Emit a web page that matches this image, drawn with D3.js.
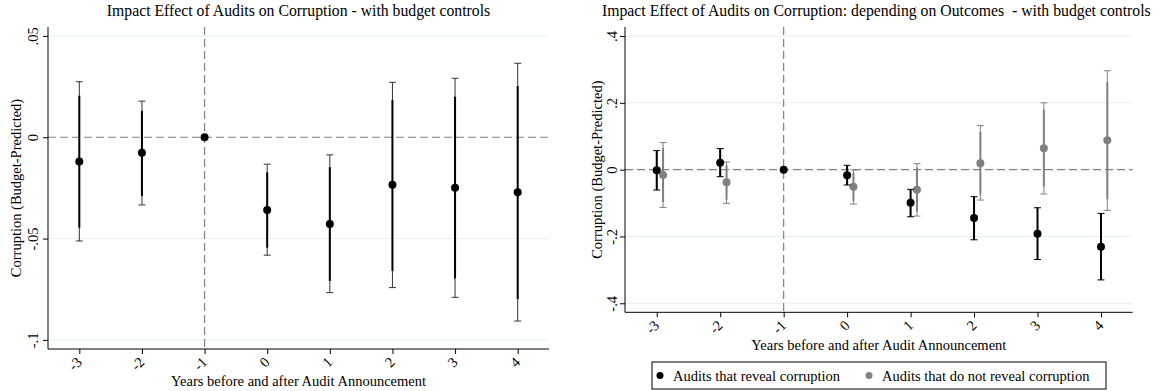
<!DOCTYPE html>
<html>
<head>
<meta charset="utf-8">
<script src="https://cdn.jsdelivr.net/npm/d3@7"></script>
<style>
  body { margin: 0; background: #fff; }
  text { font-family: "Liberation Serif", "Times New Roman", serif; fill: #000; }
</style>
</head>
<body>
<div id="chart"></div>
<script>
"use strict"

const WIDTH = 1154;
const HEIGHT = 391;
const FONT = 14.5;
const TITLE_FONT = 15.75;

// x categories (years relative to audit), -1 is the reference year
const years = [-3, -2, -1, 0, 1, 2, 3, 4];
const xTickLabels = ["-3", "-2", "-1", "0", "1", "2", "3", "4"];

// left panel: all audits
const allEst  = [-0.012, -0.0077, 0, -0.0359, -0.0428, -0.0235, -0.0249, -0.0271];
const allHi95 = [0.0274, 0.0178, null, -0.0133, -0.0087, 0.0271, 0.0291, 0.0365];
const allLo95 = [-0.0512, -0.0334, null, -0.0582, -0.0767, -0.0742, -0.079, -0.0907];
const allHi90 = [0.0205, 0.013, null, -0.0173, -0.0148, 0.0184, 0.020, 0.0253];
const allLo90 = [-0.0446, -0.0290, null, -0.0545, -0.0709, -0.066, -0.0696, -0.0798];
const leftYTicks = [0.05, 0, -0.05, -0.1];
const leftYTickLabels = [".05", "0", "-.05", "-.1"];

// right panel: audits that reveal corruption (black)
const revEst = [-0.002, 0.021, 0, -0.017, -0.099, -0.145, -0.192, -0.231];
const revHi  = [0.057, 0.063, null, 0.013, -0.059, -0.081, -0.114, -0.131];
const revLo  = [-0.061, -0.021, null, -0.046, -0.141, -0.210, -0.269, -0.330];

// right panel: audits that do not reveal corruption (gray)
const norevEst  = [-0.016, -0.038, null, -0.051, -0.060, 0.019, 0.064, 0.088];
const norevHi95 = [0.081, 0.023, null, -0.001, 0.018, 0.132, 0.200, 0.296];
const norevLo95 = [-0.113, -0.101, null, -0.103, -0.139, -0.091, -0.073, -0.122];
const norevHi90 = [0.065, 0.013, null, -0.009, 0.006, 0.114, 0.179, 0.262];
const norevLo90 = [-0.097, -0.090, null, -0.094, -0.126, -0.074, -0.051, -0.088];
const rightYTicks = [0.4, 0.2, 0, -0.2, -0.4];
const rightYTickLabels = [".4", ".2", "0", "-.2", "-.4"];

const legendLabels = ["Audits that reveal corruption", "Audits that do not reveal corruption"];

const GRAY = "#808080";
const GRID = "#e8f0f2";

var svg = d3.select('#chart')
	.append('svg')
	.attr('width', WIDTH)
	.attr('height', HEIGHT);

svg.append('rect').attr('width', WIDTH).attr('height', HEIGHT).attr('fill', '#fff');

function drawFrame(g, x, y, yTicks, yTickLabels, opts)
{
	var x0 = x.range()[0], x1 = x.range()[1];
	var yb = y.range()[0], yt = y.range()[1];

	// gridlines (zero gets the dashed line instead)
	g.selectAll('.grid')
		.data(yTicks.filter(function(d) { return d !== 0; }))
		.enter().append('line')
		.attr('x1', x0).attr('x2', x1)
		.attr('y1', function(d) { return y(d); })
		.attr('y2', function(d) { return y(d); })
		.style('stroke', GRID).style('stroke-width', 1);

	// reference lines
	g.append('line')
		.attr('x1', x0).attr('x2', x1)
		.attr('y1', y(0)).attr('y2', y(0))
		.style('stroke', GRAY).style('stroke-width', 1.2).style('stroke-dasharray', '8,4');
	g.append('line')
		.attr('x1', x(-1)).attr('x2', x(-1))
		.attr('y1', yt).attr('y2', yb)
		.style('stroke', GRAY).style('stroke-width', 1.2).style('stroke-dasharray', '8,4');

	// y axis
	var yAxis = d3.axisLeft(y).tickValues(yTicks).tickSize(5)
		.tickFormat(function(d, i) { return yTickLabels[i]; });
	var ya = g.append('g').attr('transform', 'translate(' + x0 + ',0)').call(yAxis);
	ya.select('.domain').attr('d', 'M0,' + yt + 'V' + yb).style('stroke', '#000');
	ya.selectAll('.tick line').style('stroke', '#000');
	ya.selectAll('.tick text')
		.attr('x', null).attr('dy', null)
		.attr('font-size', FONT)
		.attr('text-anchor', 'middle')
		.attr('transform', 'translate(' + (opts.yLabelX - x0) + ',0) rotate(-90)');

	// x axis
	var xAxis = d3.axisBottom(x).tickValues(years).tickSize(5)
		.tickFormat(function(d, i) { return xTickLabels[i]; });
	var xa = g.append('g').attr('transform', 'translate(0,' + yb + ')').call(xAxis);
	xa.select('.domain').attr('d', 'M' + x0 + ',0H' + x1).style('stroke', '#000');
	xa.selectAll('.tick line').style('stroke', '#000');
	xa.selectAll('.tick text')
		.attr('y', null).attr('dy', null)
		.attr('font-size', FONT)
		.attr('text-anchor', 'end')
		.attr('transform', 'translate(3,14) rotate(-45)');

	// titles
	g.append('text')
		.attr('x', opts.titleX).attr('y', 16)
		.attr('text-anchor', opts.titleAnchor)
		.attr('font-size', TITLE_FONT)
		.style('white-space', 'pre')
		.text(opts.title);
	g.append('text')
		.attr('x', (x0 + x1) / 2).attr('y', yb + opts.xTitleOffset)
		.attr('text-anchor', 'middle')
		.attr('font-size', FONT)
		.text('Years before and after Audit Announcement');
	g.append('text')
		.attr('transform', 'translate(' + opts.yTitleX + ',' + ((yt + yb) / 2) + ') rotate(-90)')
		.attr('text-anchor', 'middle')
		.attr('font-size', FONT)
		.text('Corruption (Budget-Predicted)');
}

function drawBars(g, x, y, shift, est, lo, hi, width, color, caps)
{
	var rows = years.map(function(d, i) { return { yr: d, est: est[i], lo: lo[i], hi: hi[i] }; })
		.filter(function(d) { return d.lo !== null && d.hi !== null; });
	g.selectAll(null).data(rows).enter().append('line')
		.attr('x1', function(d) { return x(d.yr + shift); })
		.attr('x2', function(d) { return x(d.yr + shift); })
		.attr('y1', function(d) { return y(d.lo); })
		.attr('y2', function(d) { return y(d.hi); })
		.style('stroke', color).style('stroke-width', width);
	if (caps) {
		['lo', 'hi'].forEach(function(k) {
			g.selectAll(null).data(rows).enter().append('line')
				.attr('x1', function(d) { return x(d.yr + shift) - 3.5; })
				.attr('x2', function(d) { return x(d.yr + shift) + 3.5; })
				.attr('y1', function(d) { return y(d[k]); })
				.attr('y2', function(d) { return y(d[k]); })
				.style('stroke', color).style('stroke-width', 1);
		});
	}
}

function drawPoints(g, x, y, shift, est, color)
{
	g.selectAll(null)
		.data(years.map(function(d, i) { return { yr: d, est: est[i] }; })
			.filter(function(d) { return d.est !== null; }))
		.enter().append('circle')
		.attr('cx', function(d) { return x(d.yr + shift); })
		.attr('cy', function(d) { return y(d.est); })
		.attr('r', 4)
		.style('fill', color);
}

// ---- left panel
var xL = d3.scaleLinear().domain([-3.5, 4.5]).range([48, 549]);
var yL = d3.scaleLinear().domain([-0.1045, 0.0544]).range([349, 27]);
var left = svg.append('g');
drawFrame(left, xL, yL, leftYTicks, leftYTickLabels, {
	title: 'Impact Effect of Audits on Corruption - with budget controls',
	titleX: 298.5, titleAnchor: 'middle', yLabelX: 38, yTitleX: 21, xTitleOffset: 37
});
drawBars(left, xL, yL, 0, allEst, allLo95, allHi95, 1, '#333', true);
drawBars(left, xL, yL, 0, allEst, allLo90, allHi90, 2, '#000', false);
drawPoints(left, xL, yL, 0, allEst, '#000');

// ---- right panel
var xR = d3.scaleLinear().domain([-3.5, 4.5]).range([625, 1132.7]);
var yR = d3.scaleLinear().domain([-0.427, 0.427]).range([312.3, 27]);
var right = svg.append('g');
drawFrame(right, xR, yR, rightYTicks, rightYTickLabels, {
	title: 'Impact Effect of Audits on Corruption: depending on Outcomes  - with budget controls',
	titleX: 602, titleAnchor: 'start', yLabelX: 617, yTitleX: 602, xTitleOffset: 38
});
drawBars(right, xR, yR, 0.1, norevEst, norevLo95, norevHi95, 1, GRAY, true);
drawBars(right, xR, yR, 0.1, norevEst, norevLo90, norevHi90, 2, GRAY, false);
drawPoints(right, xR, yR, 0.1, norevEst, GRAY);
drawBars(right, xR, yR, 0, revEst, revLo, revHi, 2, '#000', false);
drawBars(right, xR, yR, 0, revEst, revLo, revHi, 1, '#000', true);
drawPoints(right, xR, yR, 0, revEst, '#000');

// legend
var legend = svg.append('g');
legend.append('rect')
	.attr('x', 652).attr('y', 362).attr('width', 454).attr('height', 27)
	.style('fill', '#fff').style('stroke', '#000').style('stroke-width', 1);
var items = legend.selectAll('.legend')
	.data(legendLabels)
	.enter().append('g')
	.attr('transform', function(d, i) { return 'translate(' + [660, 869][i] + ',375.5)'; });
items.append('circle').attr('r', 3.5)
	.style('fill', function(d, i) { return i === 0 ? '#000' : GRAY; });
items.append('text').attr('x', 13).attr('y', 5)
	.attr('font-size', FONT)
	.text(function(d) { return d; });
</script>
</body>
</html>
